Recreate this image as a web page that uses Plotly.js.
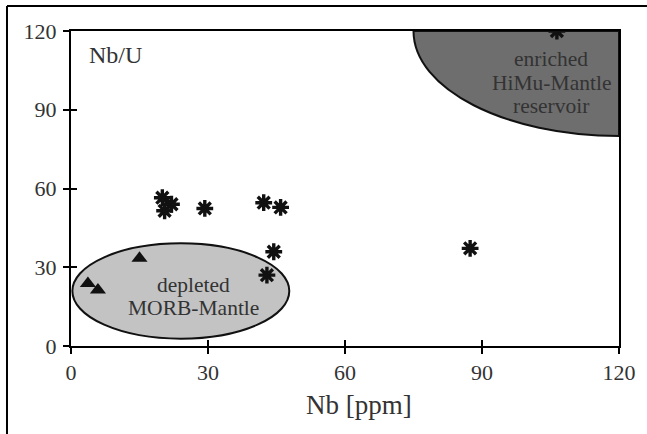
<!DOCTYPE html>
<html>
<head>
<meta charset="utf-8">
<script src="https://cdn.plot.ly/plotly-3.0.1.min.js"></script>
<style>html,body{margin:0;padding:0;background:#fff;}#chart{width:647px;height:434px;}</style>
</head>
<body>
<div id="chart"></div>
<script>
// Data: samples (asterisks) and MORB samples (triangles)
const starNb  = [20.0, 22.0, 20.5, 29.3, 42.2, 45.9, 44.4, 42.9, 87.4, 106.4];
const starNbU = [56.5, 54.0, 51.5, 52.4, 54.6, 52.8, 35.9, 27.0, 37.2, 120];
const triNb   = [3.7, 5.9, 15.0];
const triNbU  = [23.8, 21.3, 33.4];
const tickVals = [0, 30, 60, 90, 120];
const axisRange = [0, 120];

// Reservoir fields (data units)
const morbX = [0.3, 47.8];
const morbY = [2.8, 39.1];
const himuCenter = [120, 120];
const himuRadii = [45, 40];

// Field labels
const himuLines = ['enriched', 'HiMu-Mantle', 'reservoir'];
const himuLineY = [109.2, 100.2, 91.3];
const himuLabelX = 105.2;
const morbLines = ['depleted', 'MORB-Mantle'];
const morbLineY = [23.1, 14.5];
const morbLabelX = 26.9;

const FONT = 'Liberation Serif, Times New Roman, serif';
const TXT = '#333333';

const k = 0.5523;
const hx0 = himuCenter[0] - himuRadii[0], hy1 = himuCenter[1] - himuRadii[1];
const himuPath = `M ${hx0},${himuCenter[1]} C ${hx0},${himuCenter[1] - k*himuRadii[1]} ${himuCenter[0] - k*himuRadii[0]},${hy1} ${himuCenter[0]},${hy1} L ${himuCenter[0]},${himuCenter[1]} Z`;

const traces = [
  {x: starNb, y: starNbU, mode: 'markers', type: 'scatter', hoverinfo: 'skip',
   marker: {symbol: 'asterisk-open', size: 14, color: '#111', line: {width: 3.4, color: '#111'}}},
  {x: triNb, y: triNbU, mode: 'markers', type: 'scatter', hoverinfo: 'skip',
   marker: {symbol: 'triangle-up', size: 14, color: '#111'}},
  {x: [], y: [], xaxis: 'x2', yaxis: 'y2', type: 'scatter', mode: 'markers', hoverinfo: 'skip'}
];

const baseAxis = {
  range: axisRange, tickvals: tickVals, showgrid: false, zeroline: false,
  showline: true, linecolor: '#000', linewidth: 2, mirror: true,
  ticks: 'outside', ticklen: 6, tickwidth: 2, tickcolor: '#000',
  tickfont: {family: FONT, size: 22, color: TXT}, fixedrange: true
};
const innerAxis = {
  range: axisRange, tickvals: tickVals, showgrid: false, zeroline: false,
  showline: false, ticks: 'inside', ticklen: 6, tickwidth: 2, tickcolor: '#000',
  showticklabels: false, fixedrange: true
};

const fieldAnn = (lines, ys, x) => lines.map((t, i) => ({
  text: t, xref: 'x', yref: 'y', x: x, y: ys[i], xanchor: 'center', yanchor: 'middle',
  showarrow: false, font: {family: FONT, size: 21.5, color: TXT}
}));

const layout = {
  width: 647, height: 434,
  margin: {l: 71, r: 28, t: 31, b: 88},
  paper_bgcolor: '#fff', plot_bgcolor: '#fff',
  showlegend: false,
  xaxis: Object.assign({}, baseAxis, {ticklabelstandoff: 0}),
  yaxis: Object.assign({}, baseAxis, {ticklabelstandoff: 2}),
  xaxis2: Object.assign({}, innerAxis, {overlaying: 'x', anchor: 'y2'}),
  yaxis2: Object.assign({}, innerAxis, {overlaying: 'y', anchor: 'x2'}),
  shapes: [
    {type: 'circle', xref: 'x', yref: 'y', x0: morbX[0], x1: morbX[1], y0: morbY[0], y1: morbY[1],
     fillcolor: '#c3c3c3', line: {color: '#111', width: 2}, layer: 'below'},
    {type: 'path', xref: 'x', yref: 'y', path: himuPath,
     fillcolor: '#6e6e6e', line: {color: '#111', width: 2}, layer: 'below'},
    // outer frame
    {type: 'line', xref: 'paper', yref: 'paper', x0: -0.1168, x1: 1.06, y0: 1.0794, y1: 1.0794,
     line: {color: '#000', width: 2}},
    {type: 'line', xref: 'paper', yref: 'paper', x0: -0.1168, x1: -0.1168, y0: 1.0794, y1: -0.3,
     line: {color: '#000', width: 2}}
  ],
  annotations: [
    {text: 'Nb/U', xref: 'x', yref: 'y', x: 3.4, y: 111, xanchor: 'left', yanchor: 'middle',
     showarrow: false, font: {family: FONT, size: 24, color: TXT}},
    {text: 'Nb [ppm]', xref: 'paper', yref: 'paper', x: 0.526, y: -0.187,
     xanchor: 'center', yanchor: 'middle', showarrow: false,
     font: {family: FONT, size: 27, color: TXT}}
  ].concat(fieldAnn(himuLines, himuLineY, himuLabelX), fieldAnn(morbLines, morbLineY, morbLabelX))
};

Plotly.newPlot('chart', traces, layout, {staticPlot: true, displayModeBar: false});
</script>
</body>
</html>
